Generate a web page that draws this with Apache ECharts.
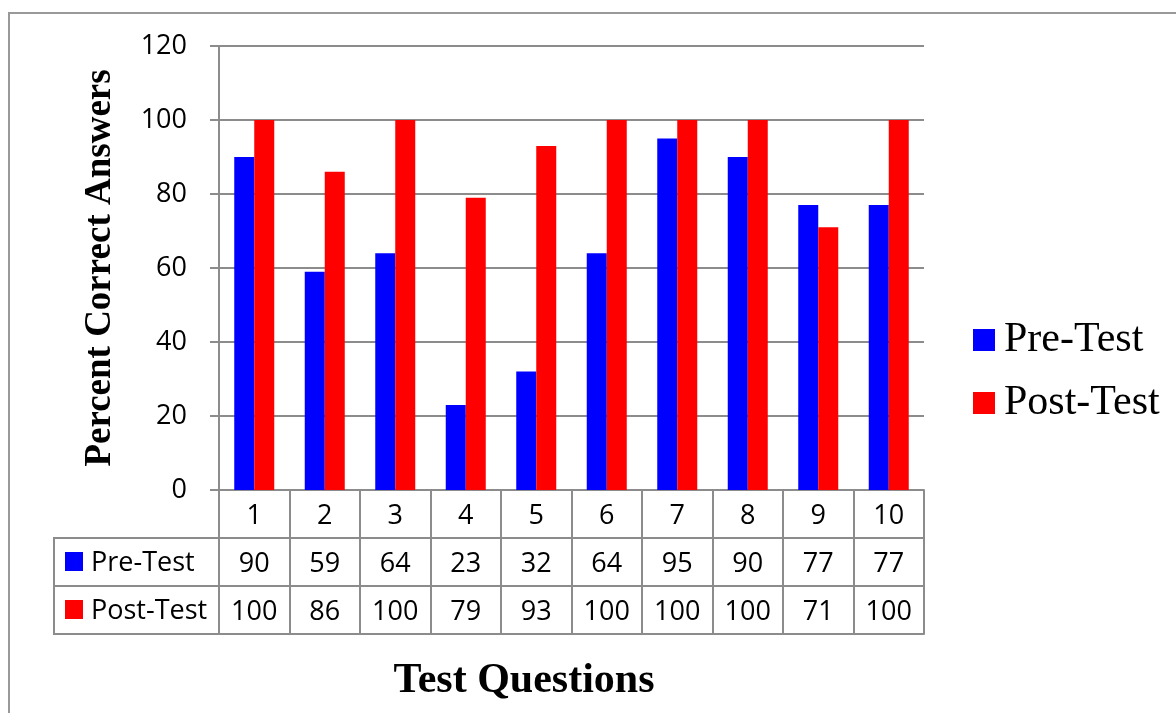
<!DOCTYPE html>
<html>
<head>
<meta charset="utf-8">
<script src="https://cdn.jsdelivr.net/npm/echarts@6/dist/echarts.min.js"></script>
<style>
  html, body { margin: 0; padding: 0; background: #fff; }
  #chart { width: 1176px; height: 713px; }
</style>
</head>
<body>
<div id="chart"></div>
<script>
// data
const questions = ['1', '2', '3', '4', '5', '6', '7', '8', '9', '10']
const preTest = [90, 59, 64, 23, 32, 64, 95, 90, 77, 77]
const postTest = [100, 86, 100, 79, 93, 100, 100, 100, 71, 100]
const yTicks = { min: 0, max: 120, interval: 20 }

const GRAY = '#8c8c8c'
const NUM_FONT = 'Open Sans'
const SERIF = 'Liberation Serif'
const ROW = 48

const chart = echarts.init(document.getElementById('chart'))

// one bottom axis per table row, stacked with offsets
function tableAxis(offset, values) {
  return {
    type: 'category',
    data: questions,
    position: 'bottom',
    offset: offset,
    axisLine: { show: true, lineStyle: { color: GRAY, width: 2 } },
    axisTick: {
      show: values !== null,
      interval: 0,
      length: ROW,
      lineStyle: { color: GRAY, width: 2 },
    },
    axisLabel: {
      show: values !== null,
      interval: 0,
      margin: 13,
      fontFamily: NUM_FONT,
      fontSize: 27,
      color: '#000',
      formatter: (v, i) => (values ? String(values[i]) : v),
    },
    splitLine: { show: false },
  }
}

const option = {
  animation: false,
  backgroundColor: '#fff',
  grid: { left: 219, top: 46, width: 705, height: 444 },
  legend: {
    orient: 'vertical',
    left: 968,
    top: 314,
    itemWidth: 22,
    itemHeight: 22,
    itemGap: 21,
    icon: 'rect',
    textStyle: {
      fontFamily: SERIF,
      fontSize: 42,
      color: '#000',
      padding: [0, 0, 0, 4],
    },
    data: ['Pre-Test', 'Post-Test'],
  },
  xAxis: [
    tableAxis(0, questions),
    tableAxis(ROW, preTest),
    tableAxis(ROW * 2, postTest),
    tableAxis(ROW * 3, null),
  ],
  yAxis: {
    type: 'value',
    min: yTicks.min,
    max: yTicks.max,
    interval: yTicks.interval,
    name: 'Percent Correct Answers',
    nameLocation: 'middle',
    nameGap: 100,
    nameTextStyle: {
      fontFamily: SERIF,
      fontWeight: 'bold',
      fontSize: 37,
      color: '#000',
    },
    axisLine: { show: true, lineStyle: { color: GRAY, width: 2 } },
    axisTick: { show: true, length: 9, lineStyle: { color: GRAY, width: 2 } },
    axisLabel: {
      margin: 32,
      fontFamily: NUM_FONT,
      fontSize: 27,
      color: '#000',
      padding: [3, 0, 0, 0],
    },
    splitLine: { lineStyle: { color: GRAY, width: 2 } },
  },
  series: [
    {
      name: 'Pre-Test',
      type: 'bar',
      data: preTest,
      barWidth: 20,
      barGap: '0%',
      itemStyle: { color: '#0000ff' },
    },
    {
      name: 'Post-Test',
      type: 'bar',
      data: postTest,
      barWidth: 20,
      barGap: '0%',
      itemStyle: { color: '#ff0000' },
    },
  ],
  graphic: [
    // outer frame
    {
      type: 'rect',
      shape: { x: 9, y: 13, width: 1200, height: 800 },
      style: { fill: 'none', stroke: '#999', lineWidth: 2 },
      silent: true,
    },
    // left column of the data table
    { type: 'line', shape: { x1: 54, y1: 538, x2: 219, y2: 538 }, style: { stroke: GRAY, lineWidth: 2 } },
    { type: 'line', shape: { x1: 54, y1: 586, x2: 219, y2: 586 }, style: { stroke: GRAY, lineWidth: 2 } },
    { type: 'line', shape: { x1: 54, y1: 634, x2: 219, y2: 634 }, style: { stroke: GRAY, lineWidth: 2 } },
    { type: 'line', shape: { x1: 54, y1: 537, x2: 54, y2: 635 }, style: { stroke: GRAY, lineWidth: 2 } },
    { type: 'rect', shape: { x: 65, y: 552, width: 18, height: 19 }, style: { fill: '#0000ff' } },
    { type: 'rect', shape: { x: 65, y: 600, width: 18, height: 19 }, style: { fill: '#ff0000' } },
    {
      type: 'text', x: 91, y: 563,
      style: { text: 'Pre-Test', font: '27px "Open Sans"', fill: '#000', textVerticalAlign: 'middle' },
    },
    {
      type: 'text', x: 91, y: 611,
      style: { text: 'Post-Test', font: '27px "Open Sans"', fill: '#000', textVerticalAlign: 'middle' },
    },
    // x axis title (sits left of the plot centre in the original)
    {
      type: 'text', x: 524, y: 681,
      style: {
        text: 'Test Questions',
        font: 'bold 42px "Liberation Serif"',
        fill: '#000',
        textAlign: 'center',
        textVerticalAlign: 'middle',
      },
    },
  ],
}

chart.setOption(option)
</script>
</body>
</html>
